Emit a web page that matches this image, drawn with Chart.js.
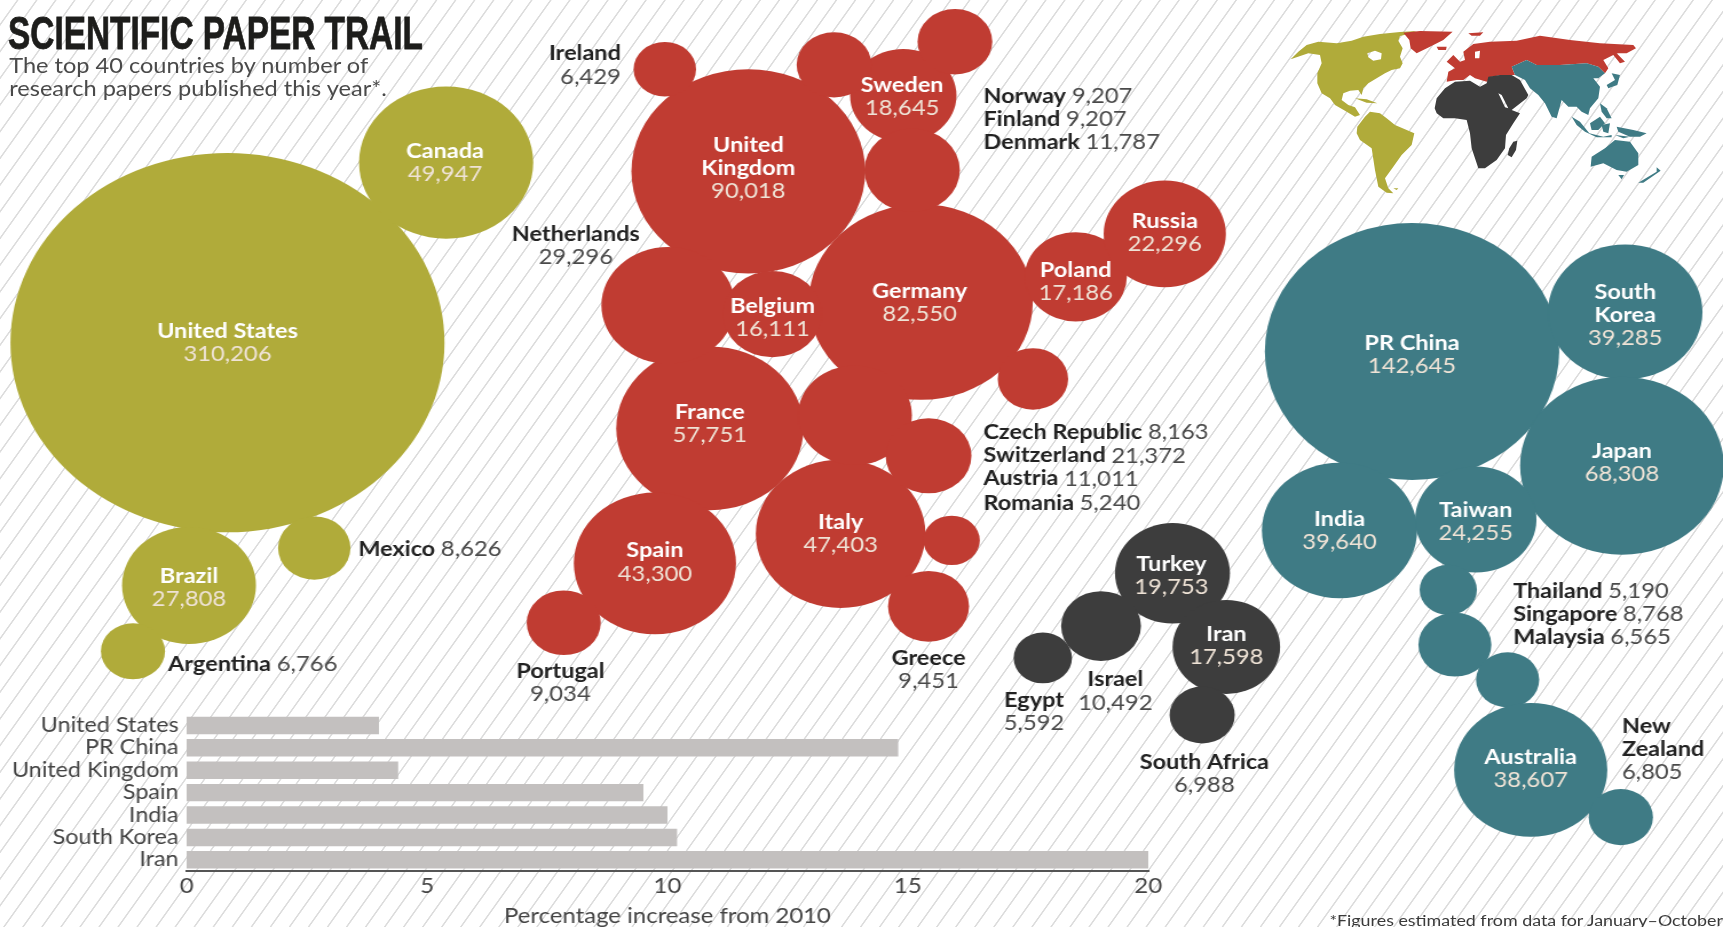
<!DOCTYPE html>
<html>
<head>
<meta charset="utf-8">
<title>Scientific paper trail</title>
<script src="https://cdn.jsdelivr.net/npm/chart.js@4/dist/chart.umd.min.js"></script>
<style>
html, body { margin: 0; padding: 0; width: 1723px; height: 927px; overflow: hidden; }
body { background: repeating-linear-gradient(125.5deg, #fff 0 13.4px, #dcdcdc 14px 14.9px, #fff 15.5px); font-family: Lato, sans-serif; position: relative; }
/* the whole reference is stretched sideways, circles come out as ellipses */
#stage { position: absolute; left: 0; top: 0; width: 1505px; height: 927px; transform: scaleX(1.14485); transform-origin: 0 0; }
#bubbles { position: absolute; left: 0; top: 0; }
#bars { position: absolute; left: 0; top: 695px; }
#title { position: absolute; left: 7px; top: 6px; font: bold 46px "Liberation Sans", sans-serif; color: #1d1d1b; -webkit-text-stroke: 0.8px #1d1d1b; white-space: nowrap; transform: scaleX(0.634); transform-origin: 0 0; }
#sub { position: absolute; left: 8px; top: 54px; font: 400 20.6px/23px Lato, sans-serif; color: #4a4a4a; white-space: nowrap; }
#note { position: absolute; right: 0; top: 911px; font: 400 15.6px Lato, sans-serif; color: #3a3a3a; white-space: nowrap; }
#map { position: absolute; left: 1270px; top: 0; width: 453px; height: 220px; }
</style>
</head>
<body>
<div id="stage">
  <canvas id="bubbles" width="1505" height="927"></canvas>
  <canvas id="bars" width="1040" height="234"></canvas>
  <div id="title">SCIENTIFIC PAPER TRAIL</div>
  <div id="sub">The top 40 countries by number of<br>research papers published this year*.</div>
  <div id="note">*Figures estimated from data for January–October</div>
</div>
<svg id="map" viewBox="1270 0 453 220">
  <g transform="translate(1280 20) scale(0.3333)">
    <g fill="#b0ab3a">
      <path fill-rule="evenodd" d="M32 118L55 95 80 75 115 65 170 70 215 62 250 50 300 42 360 36 410 33 385 42 360 48 355 62 368 85 360 110 368 130 360 145 335 150 315 160 290 175 265 190 250 205 245 225 235 210 210 212 190 220 185 240 205 255 225 262 240 285 225 290 195 272 165 255 150 235 125 220 112 190 112 160 125 130 120 105 85 100Z M262 100L285 92 305 100 303 118 280 122 265 112Z"/>
      <path d="M225 235L260 238 292 250 260 248Z"/>
      <path d="M232 320L255 290 270 275 300 280 320 295 345 315 403 340 395 375 365 405 340 440 315 475 325 505 340 520 320 518 295 500 285 450 275 385 240 360 230 340Z"/>
      <path d="M340 505L355 505 350 510Z"/>
    </g>
    <g fill="#c03c32">
      <path d="M370 38L420 33 518 35 490 60 450 80 410 100 392 85 388 60Z"/>
      <path d="M470 80L500 80 498 90 475 90Z"/>
    </g>
  </g>
  <g transform="translate(1430 20) scale(0.3333)">
    <g fill="#c03c32">
      <path d="M115 40L160 37 150 47 125 47Z"/>
      <path fill-rule="evenodd" d="M50 185L55 155 75 145 50 125 70 105 90 125 105 120 100 95 130 72 180 65 260 62 330 47 420 60 510 70 610 75 618 85 590 100 560 100 585 125 570 130 550 105 520 120 535 145 525 160 505 140 470 130 390 135 320 135 290 120 245 140 255 165 215 165 185 170 170 185 135 175 120 165 100 180 80 180Z M135 95L150 92 148 115 135 115Z"/>
    </g>
    <g fill="#3d3d3d">
      <path fill-rule="evenodd" d="M14 265L20 235 45 205 75 185 120 182 150 200 170 190 175 170 210 165 245 165 270 180 295 225 290 235 245 270 270 280 250 310 228 345 225 385 200 420 165 445 145 445 125 385 120 340 110 300 75 295 40 295 20 280Z M205 220L215 225 235 265 225 262Z"/>
      <path d="M250 365L262 362 258 390 245 412 233 405 238 385Z"/>
    </g>
    <g fill="#3f7b85">
      <path d="M245 140L290 120 320 135 390 135 470 130 505 140 525 160 505 175 490 175 510 200 505 235 480 265 475 285 455 275 440 260 415 260 395 240 380 295 365 290 345 250 325 225 300 205 285 180 255 165Z"/>
      <path d="M545 160L570 165 562 195 535 205 530 195 555 180Z"/>
      <path d="M425 290L450 305 478 340 520 350 545 345 545 352 500 352 465 335 440 315Z"/>
      <path d="M480 310L510 290 525 310 505 330 485 330Z"/>
      <path d="M510 250L530 265 545 295 530 295 515 275Z"/>
      <path d="M515 315L540 310 535 340 520 335Z"/>
      <path d="M560 320L610 330 650 340 630 350 600 350 565 335Z"/>
      <path d="M555 345L600 350 580 355Z"/>
      <path d="M482 440L485 410 525 385 555 360 600 365 625 400 625 435 590 455 560 450 520 430Z"/>
      <path d="M565 465L582 465 575 478Z"/>
      <path d="M625 488L680 455 680 442 692 452 640 488Z"/>
    </g>
  </g>
</svg>
<script>
// papers per country, and where each bubble sits on the packed layout
const americasNames = ['United States', 'Canada', 'Brazil', 'Mexico', 'Argentina'];
const americasPapers = [310206, 49947, 27808, 8626, 6766];
const americasX = [207, 406, 172, 286, 121];
const americasY = [312, 148, 533, 499, 593];

const europeNames = ['United Kingdom', 'Germany', 'France', 'Spain', 'Italy', 'Netherlands', 'Belgium', 'Sweden', 'Norway', 'Finland', 'Denmark', 'Ireland', 'Poland', 'Russia', 'Czech Republic', 'Switzerland', 'Austria', 'Romania', 'Greece', 'Portugal'];
const europePapers = [90018, 82550, 57751, 43300, 47403, 29296, 16111, 18645, 9207, 9207, 11787, 6429, 17186, 22296, 8163, 21372, 11011, 5240, 9451, 9034];
const europeX = [681, 838, 646, 596, 765, 608, 703, 822, 869, 759, 830, 605, 979, 1060, 940, 778, 845, 866, 845, 513];
const europeY = [156, 275, 390, 513, 486, 278, 286, 87, 38, 59, 155, 63, 252, 213, 345, 378, 415, 492, 552, 567];

const mideastNames = ['Turkey', 'Iran', 'Israel', 'Egypt', 'South Africa'];
const mideastPapers = [19753, 17598, 10492, 5592, 6988];
const mideastX = [1067, 1116, 1002, 949, 1094];
const mideastY = [522, 589, 570, 599, 651];

const asiaNames = ['PR China', 'South Korea', 'Japan', 'India', 'Taiwan', 'Thailand', 'Singapore', 'Malaysia', 'Australia', 'New Zealand'];
const asiaPapers = [142645, 39285, 68308, 39640, 24255, 5190, 8768, 6565, 38607, 6805];
const asiaX = [1285, 1479, 1476, 1219, 1343, 1318, 1324, 1372, 1393, 1475];
const asiaY = [320, 284, 424, 483, 473, 537, 587, 619, 701, 744];

// percentage increase from 2010
const growthCountries = ['United States', 'PR China', 'United Kingdom', 'Spain', 'India', 'South Korea', 'Iran'];
const growthValues = [4.0, 14.8, 4.4, 9.5, 10.0, 10.2, 20];
const growthTicks = [0, 5, 10, 15, 20];

const RADIUS_PER_ROOT = 0.3404; // bubble area follows paper count
// a few bubbles in the original are drawn a bit bigger than their count
const radiusFudge = { 'Denmark': 1.13, 'Russia': 1.05, 'Turkey': 1.05, 'Iran': 1.04, 'Greece': 1.07, 'Austria': 1.05, 'Brazil': 1.03, 'Thailand': 1.02 };
const LINE = 23;

const allNames = [...americasNames, ...europeNames, ...mideastNames, ...asiaNames];
const allPapers = [...americasPapers, ...europePapers, ...mideastPapers, ...asiaPapers];
const fmt = name => allPapers[allNames.indexOf(name)].toLocaleString('en-US');

// labels inside a bubble: [lines of name, centre x, centre y]
const insideLabels = {
    'United States': [['United States'], 207, 312],
    'Canada': [['Canada'], 405, 148],
    'Brazil': [['Brazil'], 172, 535],
    'Sweden': [['Sweden'], 821, 88],
    'United Kingdom': [['United', 'Kingdom'], 681, 153],
    'Belgium': [['Belgium'], 703, 289],
    'Germany': [['Germany'], 837, 276],
    'Poland': [['Poland'], 979, 257],
    'Russia': [['Russia'], 1060, 212],
    'France': [['France'], 646, 386],
    'Spain': [['Spain'], 596, 512],
    'Italy': [['Italy'], 765, 486],
    'Turkey': [['Turkey'], 1066, 524],
    'Iran': [['Iran'], 1116, 588],
    'PR China': [['PR China'], 1285, 323],
    'South Korea': [['South', 'Korea'], 1479, 287],
    'Japan': [['Japan'], 1476, 421],
    'India': [['India'], 1219, 483],
    'Taiwan': [['Taiwan'], 1343, 475],
    'Australia': [['Australia'], 1393, 700]
};
// one line labels "Name value": left x, middle y
const inlineLabels = {
    'Mexico': [326, 500], 'Argentina': [153, 605],
    'Norway': [895, 88], 'Finland': [895, 109], 'Denmark': [895, 130],
    'Czech Republic': [895, 394], 'Switzerland': [895, 415], 'Austria': [895, 436], 'Romania': [895, 458],
    'Thailand': [1377, 538], 'Singapore': [1377, 559], 'Malaysia': [1377, 580]
};
// stacked labels outside a bubble: [lines of name, align, x, y of first line]
const stackedLabels = {
    'Ireland': [['Ireland'], 'right', 565, 49],
    'Netherlands': [['Netherlands'], 'center', 524, 213],
    'Portugal': [['Portugal'], 'center', 510, 611],
    'Greece': [['Greece'], 'center', 845, 599],
    'Israel': [['Israel'], 'center', 1015, 619],
    'Egypt': [['Egypt'], 'center', 941, 638],
    'South Africa': [['South Africa'], 'center', 1096, 694],
    'New Zealand': [['New', 'Zealand'], 'left', 1476, 661]
};

const BOLD = 'bold 20.5px Lato, sans-serif';
const LIGHT = '400 20.8px Lato, sans-serif';

const labelPlugin = {
    id: 'paperLabels',
    afterDatasetsDraw(chart) {
        const ctx = chart.ctx, px = chart.scales.x, py = chart.scales.y;
        ctx.save();
        ctx.textBaseline = 'middle';

        Object.entries(insideLabels).forEach(([name, [lines, x, y]]) => {
            const cx = px.getPixelForValue(x);
            let top = py.getPixelForValue(y) - LINE * lines.length / 2;
            ctx.textAlign = 'center';
            ctx.fillStyle = '#fff';
            ctx.font = BOLD;
            lines.forEach(l => { ctx.fillText(l, cx, top); top += LINE; });
            ctx.fillStyle = '#efe3d6';
            ctx.font = LIGHT;
            ctx.fillText(fmt(name), cx, top);
        });

        Object.entries(inlineLabels).forEach(([name, [x, y]]) => {
            const left = px.getPixelForValue(x), mid = py.getPixelForValue(y);
            ctx.textAlign = 'left';
            ctx.fillStyle = '#222';
            ctx.font = BOLD;
            ctx.fillText(name, left, mid);
            const w = ctx.measureText(name + ' ').width;
            ctx.fillStyle = '#4a4a4a';
            ctx.font = LIGHT;
            ctx.fillText(fmt(name), left + w, mid);
        });

        Object.entries(stackedLabels).forEach(([name, [lines, align, x, y]]) => {
            const ax = px.getPixelForValue(x);
            let top = py.getPixelForValue(y);
            ctx.textAlign = align;
            ctx.fillStyle = '#222';
            ctx.font = BOLD;
            lines.forEach(l => { ctx.fillText(l, ax, top); top += LINE; });
            ctx.fillStyle = '#4a4a4a';
            ctx.font = LIGHT;
            ctx.fillText(fmt(name), ax, top);
        });
        ctx.restore();
    }
};

function bubbleSet(label, names, papers, xs, ys, colour) {
    return {
        label: label,
        data: papers.map((p, i) => ({ x: xs[i], y: ys[i], r: RADIUS_PER_ROOT * Math.sqrt(p) * (radiusFudge[names[i]] || 1) })),
        backgroundColor: colour,
        borderWidth: 0,
        hoverBorderWidth: 0,
        clip: false
    };
}

new Chart(document.getElementById('bubbles'), {
    type: 'bubble',
    data: {
        datasets: [
            bubbleSet('Americas', americasNames, americasPapers, americasX, americasY, '#b0ab3a'),
            bubbleSet('Europe', europeNames, europePapers, europeX, europeY, '#c03c32'),
            bubbleSet('Middle East and Africa', mideastNames, mideastPapers, mideastX, mideastY, '#3d3d3d'),
            bubbleSet('Asia Pacific', asiaNames, asiaPapers, asiaX, asiaY, '#3f7b85')
        ]
    },
    options: {
        responsive: false,
        animation: false,
        layout: { padding: 0, autoPadding: false },
        plugins: { legend: { display: false }, tooltip: { enabled: false } },
        scales: {
            x: { type: 'linear', display: false, min: 0, max: 1568 },
            y: { type: 'linear', display: false, min: 0, max: 844, reverse: true }
        }
    },
    plugins: [labelPlugin]
});

new Chart(document.getElementById('bars'), {
    type: 'bar',
    data: {
        labels: growthCountries,
        datasets: [{
            label: 'Percentage increase from 2010',
            data: growthValues,
            backgroundColor: '#c3c0bf',
            categoryPercentage: 0.78,
            barPercentage: 1
        }]
    },
    options: {
        indexAxis: 'y',
        responsive: false,
        animation: false,
        layout: { padding: { top: 12, right: 37, left: 0, bottom: 0 }, autoPadding: false },
        plugins: { legend: { display: false }, tooltip: { enabled: false } },
        scales: {
            x: {
                min: 0, max: 20,
                afterBuildTicks(scale) { scale.ticks = growthTicks.map(v => ({ value: v })); },
                afterFit(scale) { scale.height = 58; },
                grid: { display: false, drawTicks: false },
                border: { color: '#555', width: 2 },
                ticks: { color: '#444', font: { family: 'Lato', size: 21 }, maxRotation: 0, padding: 3 },
                title: { display: true, text: 'Percentage increase from 2010', color: '#444', font: { family: 'Lato', size: 20.9 }, padding: 0 }
            },
            y: {
                afterFit(scale) { scale.width = 163; },
                grid: { display: false, drawTicks: false },
                border: { display: false },
                ticks: { color: '#444', font: { family: 'Lato', size: 20.4 }, padding: 7, autoSkip: false }
            }
        }
    }
});
</script>
</body>
</html>
